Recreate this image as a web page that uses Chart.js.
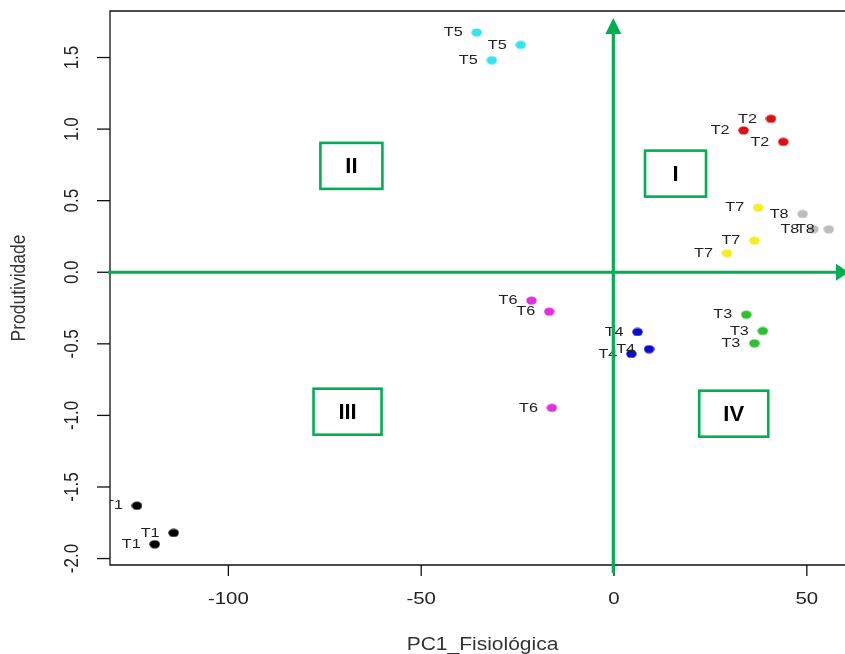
<!DOCTYPE html>
<html>
<head>
<meta charset="utf-8">
<script src="https://cdn.jsdelivr.net/npm/chart.js@4"></script>
<style>
  html, body { margin: 0; padding: 0; background: #fff; }
  #chart { display: block; }
</style>
</head>
<body>
<canvas id="chart" width="845" height="654"></canvas>
<script>
// -------------------------------
// Data
// -------------------------------
const treatments = ["T1", "T2", "T3", "T4", "T5", "T6", "T7", "T8"];
const pc1Fisiologica = [
  [-123.7, -114.2, -119.1],
  [40.7, 33.6, 43.9],
  [34.3, 38.6, 36.4],
  [6.1, 9.1, 4.5],
  [-35.6, -24.2, -31.7],
  [-21.4, -16.8, -16.1],
  [37.4, 36.4, 29.3],
  [48.9, 51.7, 55.7]
];
const produtividade = [
  [-1.631, -1.821, -1.900],
  [1.072, 0.991, 0.911],
  [-0.296, -0.410, -0.496],
  [-0.417, -0.537, -0.570],
  [1.675, 1.588, 1.481],
  [-0.198, -0.275, -0.947],
  [0.451, 0.221, 0.133],
  [0.407, 0.300, 0.300]
];
const treatmentColors = ["#000000", "#dc1010", "#2ec02e", "#0a0ad0", "#33e4f0", "#e030e0", "#f4ee22", "#bdbdbd"];

const xTicks = [-100, -50, 0, 50];
const yTicks = [-2.0, -1.5, -1.0, -0.5, 0.0, 0.5, 1.0, 1.5];
const yTickLabels = ["-2.0", "-1.5", "-1.0", "-0.5", "0.0", "0.5", "1.0", "1.5"];

const xTitle = "PC1_Fisiológica";
const yTitle = "Produtividade";

// quadrant labels, placed in data units
const quadrantNames = ["I", "II", "III", "IV"];
const quadrantX = [15.95, -68.1, -69.1, 31.05];
const quadrantY = [0.689, 0.743, -0.974, -0.988];
const quadrantBoxW = [61, 62, 68, 69];

// -------------------------------
// Styles
// -------------------------------
const FONT = '"Liberation Sans", Arial, sans-serif';
const STRETCH = 1.2;       // picture is stretched sideways
const GREEN = "#00b050";

function stretchText(ctx, txt, x, y, sx, rot) {
  ctx.save();
  ctx.translate(x, y);
  ctx.scale(sx, 1);
  if (rot) ctx.rotate(rot);
  ctx.fillText(txt, 0, 0);
  ctx.restore();
}

function makeDot(color) {
  const c = document.createElement("canvas");
  c.width = 11;
  c.height = 9;
  const g = c.getContext("2d");
  g.fillStyle = color;
  g.beginPath();
  g.ellipse(5.5, 4.5, 5.2, 4.1, 0, 0, Math.PI * 2);
  g.fill();
  return c;
}

// -------------------------------
// R-like frame, ticks, labels and the green overlays
// -------------------------------
const rPlot = {
  id: "rPlot",
  afterDatasetsDraw(chart) {
    const ctx = chart.ctx;
    const a = chart.chartArea;
    ctx.save();
    ctx.beginPath();
    ctx.rect(a.left, a.top, a.right - a.left, a.bottom - a.top);
    ctx.clip();
    ctx.fillStyle = "#222";
    ctx.font = "13.5px " + FONT;
    ctx.textAlign = "right";
    ctx.textBaseline = "middle";
    chart.data.datasets.forEach((ds, i) => {
      const meta = chart.getDatasetMeta(i);
      meta.data.forEach((pt) => {
        stretchText(ctx, ds.label, pt.x - 14, pt.y, STRETCH);
      });
    });
    ctx.restore();
  },
  afterDraw(chart) {
    const ctx = chart.ctx;
    const a = chart.chartArea;
    const xs = chart.scales.x;
    const ys = chart.scales.y;

    ctx.save();
    // frame (right side is outside the picture)
    ctx.strokeStyle = "#111";
    ctx.lineWidth = 1.3;
    ctx.beginPath();
    ctx.moveTo(a.right + 5, a.top);
    ctx.lineTo(a.left, a.top);
    ctx.lineTo(a.left, a.bottom);
    ctx.lineTo(a.right + 5, a.bottom);
    ctx.stroke();

    // x ticks
    ctx.fillStyle = "#222";
    ctx.font = "17px " + FONT;
    ctx.textAlign = "center";
    ctx.textBaseline = "middle";
    xTicks.forEach((v) => {
      const px = xs.getPixelForValue(v);
      ctx.beginPath();
      ctx.moveTo(px, a.bottom);
      ctx.lineTo(px, a.bottom + 11);
      ctx.stroke();
      stretchText(ctx, String(v), px, a.bottom + 34, STRETCH);
    });

    // y ticks (labels turned like R)
    yTicks.forEach((v, i) => {
      const py = ys.getPixelForValue(v);
      ctx.beginPath();
      ctx.moveTo(a.left, py);
      ctx.lineTo(a.left - 13, py);
      ctx.stroke();
      stretchText(ctx, yTickLabels[i], a.left - 38, py, STRETCH, -Math.PI / 2);
    });

    // axis titles
    ctx.fillStyle = "#333";
    ctx.font = "17.5px " + FONT;
    ctx.textBaseline = "alphabetic";
    stretchText(ctx, xTitle, (a.left + a.right + 10) / 2, a.bottom + 85, STRETCH);
    ctx.textBaseline = "middle";
    stretchText(ctx, yTitle, 19.5, (a.top + a.bottom) / 2, STRETCH, -Math.PI / 2);

    // green axes arrows through origin
    const x0 = xs.getPixelForValue(0);
    const y0 = ys.getPixelForValue(0);
    ctx.strokeStyle = GREEN;
    ctx.fillStyle = GREEN;
    ctx.lineWidth = 3.2;
    ctx.beginPath();
    ctx.moveTo(a.left - 2, y0);
    ctx.lineTo(a.right - 6, y0);
    ctx.stroke();
    ctx.beginPath();
    ctx.moveTo(a.right + 4, y0);
    ctx.lineTo(a.right - 9, y0 - 8.5);
    ctx.lineTo(a.right - 9, y0 + 8.5);
    ctx.closePath();
    ctx.fill();

    ctx.beginPath();
    ctx.moveTo(x0 - 0.7, a.bottom + 8);
    ctx.lineTo(x0 - 0.7, a.top + 20);
    ctx.stroke();
    ctx.beginPath();
    ctx.moveTo(x0 - 0.7, a.top + 7);
    ctx.lineTo(x0 - 8.7, a.top + 23);
    ctx.lineTo(x0 + 7.3, a.top + 23);
    ctx.closePath();
    ctx.fill();

    // quadrant boxes
    ctx.lineWidth = 2.6;
    ctx.font = "bold 22px " + FONT;
    ctx.textAlign = "center";
    ctx.textBaseline = "middle";
    quadrantNames.forEach((name, i) => {
      const cx = xs.getPixelForValue(quadrantX[i]);
      const cy = ys.getPixelForValue(quadrantY[i]);
      const w = quadrantBoxW[i];
      const h = 46;
      ctx.fillStyle = "#fff";
      ctx.fillRect(cx - w / 2, cy - h / 2, w, h);
      ctx.strokeStyle = GREEN;
      ctx.strokeRect(cx - w / 2, cy - h / 2, w, h);
      ctx.fillStyle = "#000";
      ctx.fillText(name, cx, cy + 1);
    });
    ctx.restore();
  }
};

// -------------------------------
// Build chart
// -------------------------------
const datasets = treatments.map((t, i) => ({
  label: t,
  data: pc1Fisiologica[i].map((x, j) => ({ x: x, y: produtividade[i][j] })),
  pointStyle: makeDot(treatmentColors[i]),
  backgroundColor: treatmentColors[i],
  borderColor: treatmentColors[i],
  pointRadius: 5
}));

new Chart(document.getElementById("chart").getContext("2d"), {
  type: "scatter",
  data: { datasets: datasets },
  options: {
    responsive: false,
    animation: false,
    devicePixelRatio: 1,
    events: [],
    layout: { autoPadding: false, padding: { left: 110, top: 11, right: 0, bottom: 89 } },
    plugins: { legend: { display: false }, tooltip: { enabled: false } },
    scales: {
      x: { type: "linear", min: -130.7, max: 59.9, display: false },
      y: { type: "linear", min: -2.045, max: 1.825, display: false }
    }
  },
  plugins: [rPlot]
});
</script>
</body>
</html>
